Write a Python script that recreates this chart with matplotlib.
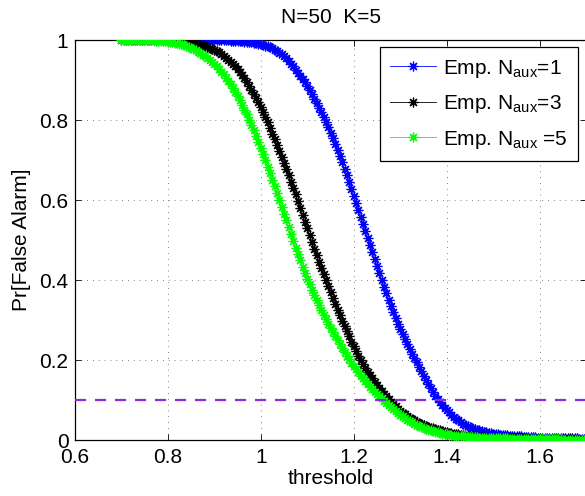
import numpy as np
import matplotlib
matplotlib.use("Agg")
import matplotlib.pyplot as plt

plt.rcParams['font.family'] = ['Liberation Sans', 'DejaVu Sans']
plt.rcParams['font.size'] = 15
plt.rcParams['mathtext.fontset'] = 'custom'
plt.rcParams['mathtext.rm'] = 'Liberation Sans'
plt.rcParams['mathtext.default'] = 'regular'

# ---------------- data ----------------
title_text = "N=50  K=5"
x_label = "threshold"
y_label = "Pr[False Alarm]"
fa_target = 0.1
x_step = 0.005

# N_aux = 1 (blue), thresholds start at 0.85
start_aux1 = 0.85
pfa_aux1 = [
    1.000, 1.000, 1.000, 1.000, 1.000, 1.000, 1.000, 1.000, 1.000, 1.000,
    1.000, 0.999, 0.999, 0.999, 0.999, 0.999, 0.999, 0.998, 0.998, 0.998,
    0.998, 0.997, 0.997, 0.996, 0.995, 0.995, 0.994, 0.993, 0.992, 0.991,
    0.990, 0.988, 0.986, 0.984, 0.982, 0.979, 0.976, 0.972, 0.968, 0.964,
    0.959, 0.954, 0.948, 0.941, 0.934, 0.926, 0.918, 0.910, 0.902, 0.894,
    0.885, 0.875, 0.864, 0.853, 0.842, 0.831, 0.819, 0.807, 0.795, 0.782,
    0.768, 0.754, 0.740, 0.725, 0.710, 0.694, 0.678, 0.662, 0.645, 0.628,
    0.610, 0.593, 0.575, 0.558, 0.540, 0.523, 0.505, 0.488, 0.470, 0.453,
    0.435, 0.418, 0.400, 0.383, 0.367, 0.351, 0.335, 0.320, 0.305, 0.291,
    0.277, 0.264, 0.252, 0.240, 0.228, 0.216, 0.205, 0.194, 0.183, 0.172,
    0.161, 0.150, 0.140, 0.130, 0.120, 0.111, 0.102, 0.094, 0.087, 0.081,
    0.075, 0.069, 0.063, 0.058, 0.053, 0.049, 0.045, 0.041, 0.038, 0.035,
    0.033, 0.030, 0.028, 0.026, 0.024, 0.022, 0.021, 0.019, 0.018, 0.017,
    0.016, 0.015, 0.014, 0.013, 0.013, 0.012, 0.012, 0.011, 0.011, 0.010,
    0.010, 0.009, 0.009, 0.008, 0.008, 0.008, 0.007, 0.007, 0.007, 0.006,
    0.006, 0.006, 0.006, 0.005, 0.005, 0.005, 0.005, 0.005, 0.005, 0.004,
    0.004, 0.004, 0.004, 0.004, 0.004, 0.004, 0.004, 0.003, 0.003, 0.003,
    0.003]

# N_aux = 3 (black), thresholds start at 0.70
start_aux3 = 0.70
pfa_aux3 = [
    1.000, 1.000, 1.000, 1.000, 1.000, 1.000, 1.000, 1.000, 1.000, 1.000,
    1.000, 0.999, 0.999, 0.999, 0.999, 0.999, 0.999, 0.999, 0.999, 0.999,
    0.999, 0.998, 0.998, 0.998, 0.998, 0.997, 0.997, 0.996, 0.996, 0.995,
    0.994, 0.993, 0.991, 0.990, 0.988, 0.987, 0.985, 0.983, 0.980, 0.978,
    0.975, 0.972, 0.969, 0.965, 0.961, 0.956, 0.951, 0.946, 0.940, 0.934,
    0.927, 0.920, 0.912, 0.904, 0.895, 0.886, 0.876, 0.866, 0.855, 0.844,
    0.832, 0.820, 0.807, 0.794, 0.780, 0.766, 0.752, 0.738, 0.723, 0.708,
    0.693, 0.678, 0.662, 0.646, 0.630, 0.614, 0.597, 0.580, 0.563, 0.546,
    0.529, 0.512, 0.495, 0.478, 0.462, 0.446, 0.430, 0.414, 0.399, 0.384,
    0.369, 0.354, 0.340, 0.326, 0.312, 0.298, 0.285, 0.272, 0.259, 0.246,
    0.234, 0.222, 0.211, 0.200, 0.190, 0.180, 0.171, 0.162, 0.154, 0.146,
    0.138, 0.130, 0.123, 0.116, 0.109, 0.102, 0.096, 0.090, 0.084, 0.078,
    0.073, 0.068, 0.064, 0.060, 0.056, 0.052, 0.049, 0.046, 0.043, 0.040,
    0.038, 0.035, 0.033, 0.031, 0.029, 0.027, 0.026, 0.024, 0.023, 0.021,
    0.020, 0.018, 0.017, 0.016, 0.015, 0.014, 0.013, 0.012, 0.011, 0.010,
    0.010, 0.009, 0.009, 0.008, 0.008, 0.007, 0.007, 0.006, 0.006, 0.006,
    0.006, 0.005, 0.005, 0.005, 0.005, 0.005, 0.005, 0.004, 0.004, 0.004,
    0.004, 0.004, 0.004, 0.004, 0.004, 0.003, 0.003, 0.003, 0.003, 0.003,
    0.003, 0.003, 0.003, 0.003, 0.003, 0.002, 0.002, 0.002, 0.002, 0.002,
    0.002, 0.002, 0.002, 0.002, 0.002, 0.002, 0.002, 0.001, 0.001, 0.001,
    0.001]

# N_aux = 5 (green), thresholds start at 0.70
start_aux5 = 0.70
pfa_aux5 = [
    1.000, 1.000, 1.000, 1.000, 1.000, 1.000, 1.000, 1.000, 1.000, 1.000,
    1.000, 0.999, 0.999, 0.999, 0.999, 0.998, 0.998, 0.998, 0.997, 0.997,
    0.996, 0.995, 0.994, 0.993, 0.992, 0.991, 0.989, 0.987, 0.985, 0.983,
    0.980, 0.977, 0.974, 0.971, 0.967, 0.963, 0.959, 0.955, 0.950, 0.945,
    0.940, 0.934, 0.928, 0.921, 0.914, 0.906, 0.898, 0.889, 0.880, 0.870,
    0.860, 0.849, 0.838, 0.826, 0.814, 0.801, 0.788, 0.774, 0.760, 0.745,
    0.730, 0.715, 0.699, 0.683, 0.667, 0.651, 0.634, 0.617, 0.600, 0.583,
    0.566, 0.549, 0.532, 0.515, 0.498, 0.481, 0.465, 0.449, 0.433, 0.418,
    0.403, 0.389, 0.375, 0.362, 0.349, 0.337, 0.325, 0.313, 0.302, 0.291,
    0.280, 0.269, 0.259, 0.249, 0.239, 0.229, 0.220, 0.211, 0.202, 0.193,
    0.185, 0.177, 0.169, 0.161, 0.154, 0.147, 0.140, 0.133, 0.127, 0.121,
    0.115, 0.109, 0.104, 0.098, 0.093, 0.087, 0.082, 0.077, 0.072, 0.067,
    0.063, 0.059, 0.055, 0.051, 0.048, 0.044, 0.041, 0.038, 0.035, 0.032,
    0.030, 0.028, 0.026, 0.024, 0.022, 0.020, 0.019, 0.017, 0.016, 0.015,
    0.014, 0.013, 0.012, 0.011, 0.011, 0.010, 0.010, 0.009, 0.009, 0.008,
    0.008, 0.007, 0.007, 0.007, 0.006, 0.006, 0.006, 0.005, 0.005, 0.005,
    0.005, 0.004, 0.004, 0.004, 0.004, 0.004, 0.004, 0.003, 0.003, 0.003,
    0.003, 0.003, 0.003, 0.003, 0.003, 0.003, 0.002, 0.002, 0.002, 0.002,
    0.002, 0.002, 0.002, 0.002, 0.002, 0.002, 0.002, 0.002, 0.002, 0.002,
    0.001, 0.001, 0.001, 0.001, 0.001, 0.001, 0.001, 0.001, 0.001, 0.001,
    0.001]

labels = [r'Emp. N$_{aux}$=1', r'Emp. N$_{aux}$=3', r'Emp. N$_{aux}$ =5']
colors = ['#0000ff', '#000000', '#00ff00']

x_ticks = [0.6, 0.8, 1.0, 1.2, 1.4, 1.6]
x_tick_labels = ['0.6', '0.8', '1', '1.2', '1.4', '1.6']
y_ticks = [0, 0.2, 0.4, 0.6, 0.8, 1.0]
y_tick_labels = ['0', '0.2', '0.4', '0.6', '0.8', '1']
x_limits = (0.6, 1.7)
y_limits = (0, 1)

# ---------------- figure ----------------
W, H = 585, 496
fig = plt.figure(figsize=(W / 100, H / 100), dpi=100)
ax_left, ax_right, ax_top, ax_bottom = 74.7, 586.4, 40.0, 440.0
ax = fig.add_axes([ax_left / W, 1 - ax_bottom / H,
                   (ax_right - ax_left) / W, (ax_bottom - ax_top) / H])

asterisk = (8, 2, 0)
series = [(start_aux1, pfa_aux1), (start_aux3, pfa_aux3), (start_aux5, pfa_aux5)]
handles = []
for (x0, vals), col, lab in zip(series, colors, labels):
    xs = np.round(x0 + x_step * np.arange(len(vals)), 4)
    h, = ax.plot(xs, vals, '-', color=col, lw=0.6, marker=asterisk,
                 markersize=7, markeredgewidth=0.9, label=lab, zorder=3)
    handles.append(h)

ax.axhline(fa_target, color='#8a2be2', lw=1.6, linestyle=(0, (5, 4)), zorder=4)

ax.set_xlim(*x_limits)
ax.set_ylim(*y_limits)
ax.set_xticks(x_ticks)
ax.set_xticklabels(x_tick_labels)
ax.set_yticks(y_ticks)
ax.set_yticklabels(y_tick_labels)

ax.grid(True, color='0.35', lw=0.6, linestyle=(0, (1, 6)))
ax.set_axisbelow(True)
ax.tick_params(direction='in', length=4, width=0.6, top=True, right=True,
               labelsize=15, color='k')
ax.tick_params(axis='x', pad=6)
ax.tick_params(axis='y', pad=4.5)
for s in ax.spines.values():
    s.set_linewidth(0.9)
    s.set_color('k')

ax.set_title(title_text, fontsize=15, pad=12)
ax.set_xlabel(x_label, fontsize=15, labelpad=1)
ax.set_ylabel(y_label, fontsize=15)
ax.yaxis.set_label_coords(-0.085, 0.5)

bx1 = (578 - ax_left) / (ax_right - ax_left)
by1 = (ax_bottom - 46.7) / (ax_bottom - ax_top)
leg = ax.legend(handles=handles, loc='upper right', bbox_to_anchor=(bx1, by1),
                borderaxespad=0, fancybox=False, framealpha=1, edgecolor='k',
                fontsize=15, handlelength=2.2, handletextpad=0.3,
                borderpad=0.52, labelspacing=0.65, numpoints=1)
leg.get_frame().set_linewidth(0.9)
leg.set_zorder(10)

fig.savefig('out.png', dpi=100)
